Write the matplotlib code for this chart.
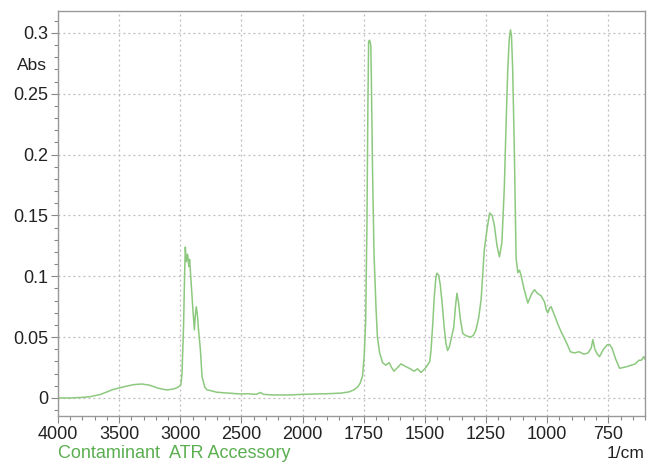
import numpy as np
import matplotlib
matplotlib.use("Agg")
import matplotlib.pyplot as plt
from matplotlib.ticker import FixedLocator

plt.rcParams['font.family'] = ['Liberation Sans', 'DejaVu Sans']

# spectrum (wavenumber in 1/cm, absorbance)
wavenumber = [
    4000, 3900, 3800, 3740, 3650, 3550, 3450, 3380, 3314, 3250, 3180, 3109, 3050, 3016,
    2995, 2986, 2973, 2965, 2959, 2950, 2940, 2930, 2924, 2915, 2905, 2895, 2885, 2877,
    2869, 2860, 2850, 2836, 2822, 2800, 2781, 2750, 2700, 2600, 2508, 2450, 2380, 2344,
    2320, 2250, 2150, 2098, 2000, 1900, 1844, 1810, 1791, 1775, 1765, 1755, 1748, 1742,
    1737, 1733, 1730, 1726, 1721, 1718, 1714, 1708, 1700, 1694, 1685, 1673, 1660, 1646,
    1636, 1626, 1612, 1598, 1580, 1560, 1544, 1530, 1516, 1500, 1489, 1480, 1475, 1468,
    1462, 1455, 1451, 1444, 1437, 1428, 1421, 1414, 1407, 1400, 1393, 1382, 1375, 1369,
    1362, 1355, 1345, 1330, 1311, 1300, 1291, 1280, 1270, 1257, 1245, 1235, 1225, 1216,
    1205, 1195, 1185, 1175, 1168, 1161, 1155, 1150, 1146, 1141, 1134, 1127, 1120, 1113,
    1107, 1095, 1079, 1065, 1052, 1040, 1025, 1011, 1003, 997, 990, 984, 970, 955, 943,
    920, 905, 889, 870, 850, 833, 820, 813, 805, 795, 786, 770, 755, 745, 735, 720, 704,
    690, 670, 656, 640, 625, 615, 605, 600,
]
absorbance = [
    0.000, 0.000, 0.0005, 0.001, 0.003, 0.007, 0.0095, 0.011, 0.0115, 0.0105, 0.008, 0.0066, 0.0075, 0.009,
    0.011, 0.020, 0.060, 0.100, 0.124, 0.112, 0.118, 0.108, 0.114, 0.100, 0.085, 0.070, 0.056, 0.068,
    0.075, 0.068, 0.055, 0.040, 0.0175, 0.009, 0.0066, 0.006, 0.0047, 0.004, 0.0033, 0.0035, 0.003, 0.0045,
    0.003, 0.0025, 0.0025, 0.0025, 0.003, 0.0035, 0.004, 0.005, 0.0066, 0.009, 0.012, 0.018, 0.035, 0.064,
    0.140, 0.240, 0.293, 0.294, 0.290, 0.250, 0.187, 0.119, 0.075, 0.050, 0.037, 0.029, 0.027, 0.029,
    0.025, 0.022, 0.025, 0.028, 0.026, 0.024, 0.022, 0.024, 0.021, 0.024, 0.027, 0.030, 0.039, 0.060,
    0.082, 0.099, 0.1025, 0.101, 0.093, 0.075, 0.058, 0.045, 0.039, 0.042, 0.048, 0.058, 0.075, 0.086,
    0.078, 0.065, 0.053, 0.051, 0.050, 0.052, 0.056, 0.066, 0.081, 0.122, 0.140, 0.152, 0.150, 0.142,
    0.125, 0.116, 0.128, 0.174, 0.225, 0.270, 0.295, 0.3025, 0.298, 0.270, 0.201, 0.115, 0.103, 0.105,
    0.101, 0.090, 0.078, 0.085, 0.089, 0.086, 0.084, 0.079, 0.072, 0.070, 0.074, 0.075, 0.068, 0.060, 0.0545,
    0.045, 0.038, 0.037, 0.038, 0.036, 0.037, 0.041, 0.048, 0.040, 0.036, 0.034, 0.040, 0.0436, 0.044, 0.041, 0.032, 0.0244,
    0.025, 0.026, 0.027, 0.028, 0.031, 0.031, 0.034, 0.032,
]
xticks = [4000, 3500, 3000, 2500, 2000, 1750, 1500, 1250, 1000, 750]
yticks = [0, 0.05, 0.1, 0.15, 0.2, 0.25, 0.3]


# above 2000 1/cm the axis is compressed by a factor of two
def fwd(x):
    x = np.asarray(x, dtype=float)
    return np.where(x > 2000, 2000 + (x - 2000) / 2, x)


def inv(y):
    y = np.asarray(y, dtype=float)
    return np.where(y > 2000, 2000 + (y - 2000) * 2, y)


fig = plt.figure(figsize=(6.48, 4.63), dpi=100)
ax = fig.add_axes([58 / 648, 1 - 416 / 463, 587 / 648, 405 / 463])

ax.plot(wavenumber, absorbance, color='#8cc97e', lw=1.1)

ax.set_xscale('function', functions=(fwd, inv))
ax.set_xlim(4000, 600)
ax.set_ylim(-0.0148, 0.318)

ax.xaxis.set_major_locator(FixedLocator(xticks))
ax.xaxis.set_minor_locator(FixedLocator(list(range(4000, 2000, -100)) + list(range(2000, 599, -50))))
ax.set_xticklabels([str(t) for t in xticks])
ax.yaxis.set_major_locator(FixedLocator(yticks))
ax.yaxis.set_minor_locator(FixedLocator(np.arange(-0.01, 0.32, 0.01)))
ax.set_yticklabels(['0', '0.05', '0.1', '0.15', '0.2', '0.25', '0.3'])

ax.tick_params(which='major', length=5, width=0.8, color='#888888', labelsize=13,
               labelcolor='#222222', pad=2)
ax.tick_params(which='minor', length=3, width=0.8, color='#888888')
for s in ax.spines.values():
    s.set_color('#999999')
    s.set_linewidth(1.0)

ax.grid(which='major', linestyle=(0, (1.5, 2.5)), color='#bbbbbb', lw=0.9)

fig.text(47 / 648, 1 - 65 / 463, 'Abs', ha='right', va='center', fontsize=12.5, color='#222222')
fig.text(645 / 648, 1 - 453 / 463, '1/cm', ha='right', va='center', fontsize=12.5, color='#222222')
fig.text(58 / 648, 1 - 453 / 463, 'Contaminant  ATR Accessory', ha='left', va='center',
         fontsize=13, color='#5aae50')

fig.savefig('out.png', dpi=100)
